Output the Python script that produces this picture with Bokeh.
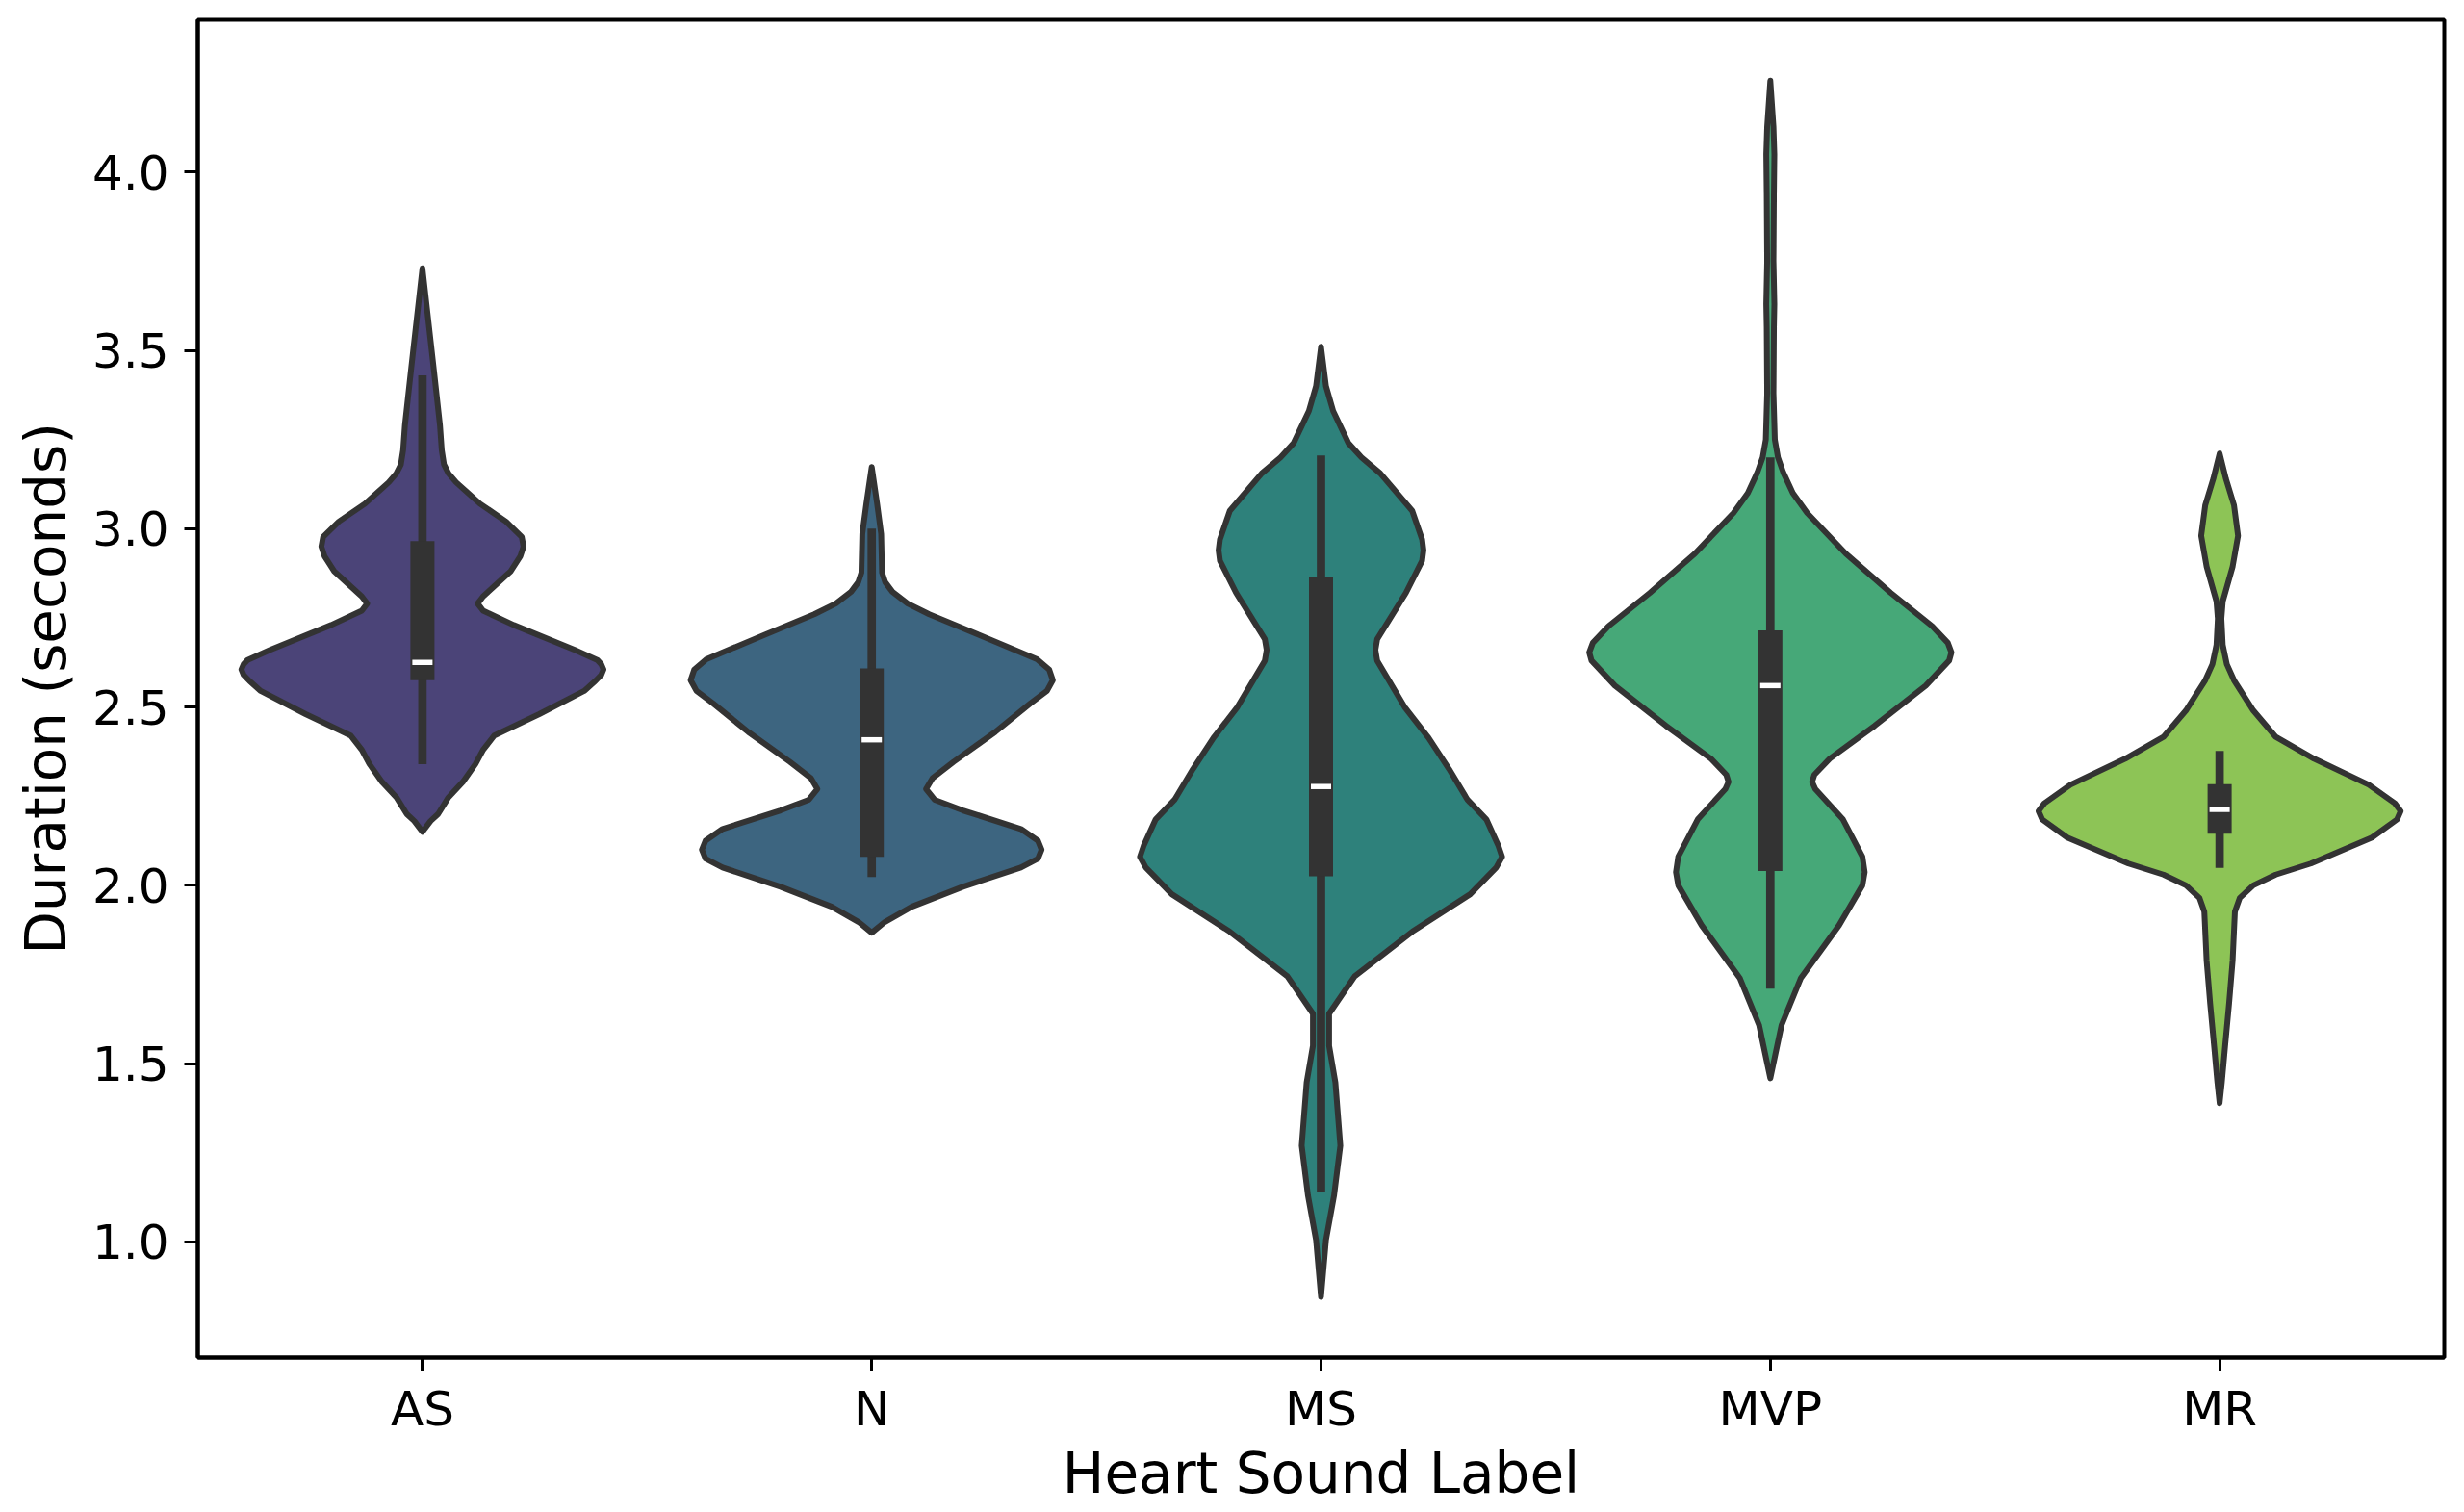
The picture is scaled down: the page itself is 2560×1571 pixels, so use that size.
from bokeh.plotting import figure
from bokeh.models import Range1d, FixedTicker, ColumnDataSource, PrintfTickFormatter
from bokeh.embed import file_html
from bokeh.resources import INLINE

categories = ["AS", "N", "MS", "MVP", "MR"]
fill_colors = ["#4B4478", "#3D6580", "#2E817B", "#46A878", "#8DC456"]

# density outline (duration value, half-width in category units)
as_y = [2.15, 2.18, 2.20, 2.245, 2.29, 2.34, 2.38, 2.42, 2.48, 2.545, 2.573, 2.59, 2.605, 2.62, 2.632, 2.66, 2.73, 2.77, 2.79, 2.81, 2.88, 2.923, 2.95, 2.977, 3.02, 3.07, 3.13, 3.155, 3.18, 3.22, 3.29, 3.45, 3.73]
as_w = [0.0, 0.018, 0.035, 0.057, 0.090, 0.118, 0.135, 0.160, 0.260, 0.360, 0.385, 0.398, 0.403, 0.398, 0.389, 0.339, 0.203, 0.135, 0.123, 0.135, 0.196, 0.218, 0.225, 0.221, 0.186, 0.128, 0.075, 0.058, 0.048, 0.043, 0.039, 0.025, 0.0]

n_y = [1.867, 1.897, 1.94, 1.996, 2.05, 2.075, 2.10, 2.125, 2.158, 2.21, 2.24, 2.27, 2.30, 2.346, 2.43, 2.51, 2.545, 2.575, 2.605, 2.634, 2.70, 2.76, 2.79, 2.823, 2.85, 2.877, 2.985, 3.07, 3.173]
n_w = [0.0, 0.029, 0.089, 0.203, 0.332, 0.370, 0.378, 0.370, 0.332, 0.203, 0.140, 0.121, 0.135, 0.182, 0.275, 0.353, 0.390, 0.403, 0.395, 0.368, 0.243, 0.128, 0.080, 0.046, 0.030, 0.023, 0.021, 0.012, 0.0]

ms_y = [0.846, 1.005, 1.13, 1.27, 1.447, 1.55, 1.64, 1.745, 1.87, 1.975, 2.05, 2.08, 2.11, 2.185, 2.24, 2.326, 2.414, 2.50, 2.63, 2.66, 2.69, 2.82, 2.91, 2.94, 2.97, 3.05, 3.155, 3.20, 3.24, 3.33, 3.40, 3.51]
ms_w = [0.0, 0.011, 0.029, 0.043, 0.032, 0.018, 0.018, 0.075, 0.203, 0.332, 0.390, 0.403, 0.395, 0.368, 0.326, 0.285, 0.239, 0.186, 0.125, 0.121, 0.125, 0.189, 0.225, 0.228, 0.225, 0.203, 0.132, 0.090, 0.061, 0.027, 0.011, 0.0]

mvp_y = [1.459, 1.608, 1.74, 1.888, 2.00, 2.037, 2.08, 2.186, 2.27, 2.29, 2.31, 2.355, 2.447, 2.56, 2.63, 2.653, 2.68, 2.727, 2.82, 2.93, 3.044, 3.10, 3.157, 3.20, 3.25, 3.38, 3.566, 3.63, 3.75, 3.94, 4.05, 4.127, 4.256]
mvp_w = [0.0, 0.025, 0.068, 0.153, 0.205, 0.210, 0.205, 0.161, 0.100, 0.093, 0.098, 0.132, 0.232, 0.346, 0.398, 0.403, 0.395, 0.360, 0.268, 0.168, 0.082, 0.050, 0.029, 0.017, 0.010, 0.007, 0.008, 0.009, 0.007, 0.008, 0.009, 0.007, 0.0]

mr_y = [1.389, 1.448, 1.546, 1.668, 1.79, 1.926, 1.965, 2.0, 2.03, 2.061, 2.134, 2.185, 2.208, 2.23, 2.282, 2.355, 2.416, 2.49, 2.575, 2.62, 2.674, 2.748, 2.796, 2.894, 2.98, 3.066, 3.14, 3.211]
mr_w = [0.0, 0.005, 0.012, 0.021, 0.029, 0.034, 0.045, 0.075, 0.125, 0.203, 0.339, 0.395, 0.403, 0.390, 0.332, 0.210, 0.125, 0.075, 0.032, 0.016, 0.007, 0.004, 0.007, 0.029, 0.041, 0.032, 0.014, 0.0]

# inner box statistics
whisker_low = [2.34, 2.023, 1.14, 1.71, 2.049]
q1 = [2.575, 2.08, 2.025, 2.04, 2.145]
median = [2.625, 2.408, 2.277, 2.56, 2.213]
q3 = [2.965, 2.608, 2.864, 2.715, 2.284]
whisker_high = [3.43, 3.0, 3.205, 3.2, 2.377]

y_ticks = [1.0, 1.5, 2.0, 2.5, 3.0, 3.5, 4.0]
x_label = "Heart Sound Label"
y_label = "Duration (seconds)"

profiles = [(as_y, as_w), (n_y, n_w), (ms_y, ms_w), (mvp_y, mvp_w), (mr_y, mr_w)]
positions = list(range(len(categories)))

xs, ys = [], []
for pos, (yy, ww) in zip(positions, profiles):
    right = [pos + w for w in ww]
    left = [pos - w for w in reversed(ww)]
    xs.append(right + left)
    ys.append(list(yy) + list(reversed(yy)))

p = figure(width=2560, height=1571, output_backend="svg", toolbar_location=None,
           title=None, x_range=Range1d(-0.5, 4.5), y_range=Range1d(0.676, 4.427))
p.min_border_left = 205
p.min_border_right = 21
p.min_border_top = 20
p.min_border_bottom = 161
p.background_fill_color = "white"
p.border_fill_color = "white"
p.outline_line_color = "black"
p.outline_line_width = 4
p.grid.visible = False

src = ColumnDataSource(dict(xs=xs, ys=ys, color=fill_colors))
p.patches("xs", "ys", source=src, fill_color="color", fill_alpha=1.0,
          line_color="#333333", line_width=6, line_join="round")

p.segment(positions, whisker_low, positions, whisker_high, line_color="#333333",
          line_width=8.7, line_cap="butt")
p.segment(positions, q1, positions, q3, line_color="#333333", line_width=25, line_cap="butt")
p.rect(positions, median, width=21, height=5.5, width_units="screen", height_units="screen",
       fill_color="white", line_color=None)

font = "DejaVu Sans"
for ax in (p.xaxis[0], p.yaxis[0]):
    ax.axis_line_color = "black"
    ax.axis_line_width = 4
    ax.major_tick_line_color = "black"
    ax.major_tick_line_width = 3
    ax.major_tick_out = 14
    ax.major_tick_in = 0
    ax.minor_tick_line_color = None
    ax.major_label_text_font = font
    ax.major_label_text_font_size = "50px"
    ax.major_label_text_color = "black"
    ax.axis_label_text_font = font
    ax.axis_label_text_font_size = "58px"
    ax.axis_label_text_font_style = "normal"
    ax.axis_label_text_color = "black"

p.xaxis[0].ticker = FixedTicker(ticks=positions)
p.xaxis[0].major_label_overrides = {i: c for i, c in zip(positions, categories)}
p.xaxis[0].axis_label = x_label
p.xaxis[0].major_label_standoff = 10
p.xaxis[0].axis_label_standoff = 1

p.yaxis[0].ticker = FixedTicker(ticks=y_ticks)
p.yaxis[0].formatter = PrintfTickFormatter(format="%.1f")
p.yaxis[0].axis_label = y_label
p.yaxis[0].major_label_standoff = 16
p.yaxis[0].axis_label_standoff = 11

open("out.html", "w").write(file_html(p, INLINE))
